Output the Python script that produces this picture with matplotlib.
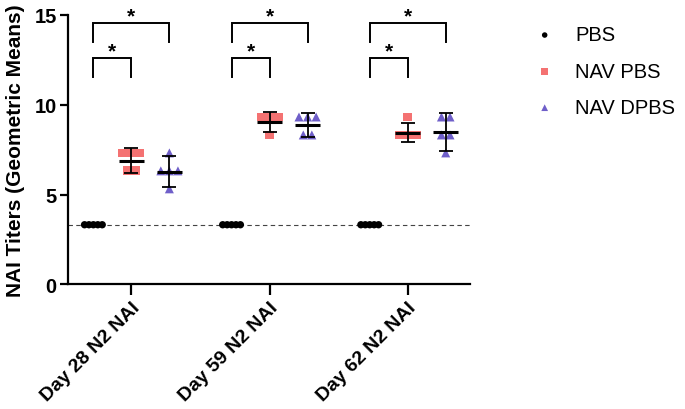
import numpy as np
import matplotlib
matplotlib.use("Agg")
import matplotlib.pyplot as plt

plt.rcParams['font.family'] = ['Liberation Sans', 'DejaVu Sans']

days = ["Day 28 N2 NAI", "Day 59 N2 NAI", "Day 62 N2 NAI"]
groups = ["PBS", "NAV PBS", "NAV DPBS"]
colors = ["black", "#f47272", "#6f5fc9"]
markers = ["o", "s", "^"]

# log2 titers per animal
pbs = [[3.32] * 5, [3.32] * 5, [3.32] * 5]
nav_pbs = [[7.32, 7.32, 7.32, 6.32, 6.32],
           [9.32, 9.32, 9.32, 8.32],
           [9.32, 8.32, 8.32, 8.32]]
nav_dpbs = [[7.32, 6.32, 6.32, 6.32, 5.32],
            [9.32, 9.32, 9.32, 8.32, 8.32],
            [9.32, 9.32, 8.32, 8.32, 7.32]]

# geometric means and error bar half widths
means = [[3.32, 3.32, 3.32], [6.88, 9.05, 8.45], [6.27, 8.88, 8.49]]
errs = [[0, 0, 0], [0.7, 0.55, 0.55], [0.87, 0.65, 1.05]]

lod = 3.32

fig = plt.figure(figsize=(6.85, 4.1), dpi=100)
ax = fig.add_axes([0.099, 0.304, 0.587, 0.657])

offs = [-0.275, 0, 0.275]
spread = [0.032, 0.062, 0.062]
data = [pbs, nav_pbs, nav_dpbs]
sizes = [28, 40, 42]

for g in range(3):
    for d in range(3):
        vals = np.array(data[g][d])
        xs = np.zeros(len(vals))
        for v in np.unique(vals):
            idx = np.where(vals == v)[0]
            k = len(idx)
            xs[idx] = (np.arange(k) - (k - 1) / 2) * spread[g]
        xc = d + offs[g]
        ax.scatter(xc + xs, vals, marker=markers[g], s=sizes[g], color=colors[g],
                   edgecolors='none', zorder=3,
                   label=groups[g] if d == 0 else None)
        if g > 0:
            ax.errorbar(xc, means[g][d], yerr=errs[g][d], color='black', lw=1.3,
                        capsize=5, capthick=1.3, zorder=4)
            ax.plot([xc - 0.09, xc + 0.09], [means[g][d]] * 2, color='black',
                    lw=2.2, zorder=4, solid_capstyle='butt')

ax.axhline(lod, color='#444444', lw=0.8, ls=(0, (4, 3)), zorder=1)

# significance brackets
for d in range(3):
    for g, (lo, hi) in zip([1, 2], [(11.57, 12.6), (13.5, 14.57)]):
        x1 = d + offs[0]
        x2 = d + offs[g]
        ax.plot([x1, x1, x2, x2], [lo, hi, hi, lo], color='black', lw=1.4,
                clip_on=False, solid_joinstyle='miter')
        ax.text((x1 + x2) / 2, hi - 0.15, "*", ha='center', va='bottom',
                fontsize=15, fontweight='bold', clip_on=False)

ax.set_xlim(-0.46, 2.45)
ax.set_ylim(0, 15)
ax.set_yticks([0, 5, 10, 15])
ax.set_xticks(range(3))
ax.set_xticklabels(days, rotation=45, ha='right', va='top',
                   rotation_mode='anchor', fontsize=14, fontweight='bold')
for lab in ax.get_yticklabels():
    lab.set_fontweight('bold')
    lab.set_fontsize(14.5)
ax.set_ylabel("NAI Titers (Geometric Means)", fontsize=15, fontweight='bold',
              labelpad=7)

for s in ['top', 'right']:
    ax.spines[s].set_visible(False)
for s in ['left', 'bottom']:
    ax.spines[s].set_linewidth(1.6)
ax.tick_params(axis='y', width=1.6, length=6, pad=2)
ax.tick_params(axis='x', width=1.6, length=8, pad=2)

leg = ax.legend(loc='upper left', bbox_to_anchor=(0.754, 0.98),
                bbox_transform=fig.transFigure, frameon=False, fontsize=14.5,
                labelspacing=0.86, handlelength=1.0, handletextpad=1.0,
                borderpad=0.4, markerscale=0.75)

fig.savefig("out.png", dpi=100)
